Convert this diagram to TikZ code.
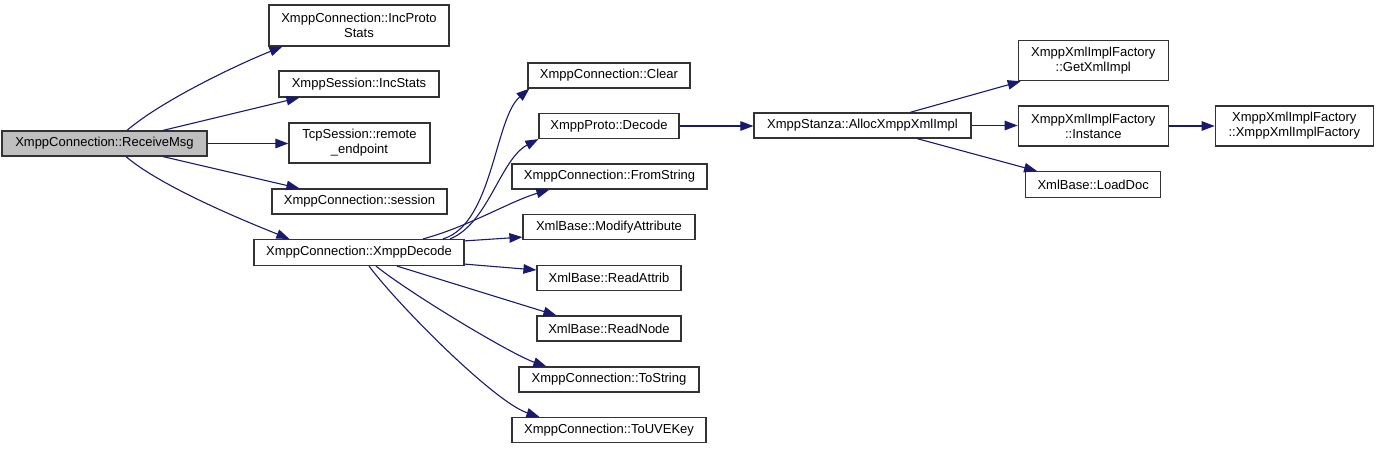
\documentclass[tikz,border=0pt]{standalone}
\usepackage{fontspec}
\setmainfont{Liberation Sans}
\usetikzlibrary{arrows.meta}
\definecolor{edgeblue}{HTML}{191970}
\definecolor{nodegray}{HTML}{BFBFBF}
\begin{document}
\begin{tikzpicture}[x=1pt,y=-1pt,
 box/.style={draw=black!80, line width=1.2pt, inner sep=0pt, align=center, font=\fontsize{13}{15}\selectfont, text=black},
 edge/.style={draw=edgeblue, line width=1.1pt, -{Triangle[length=13pt,width=9.5pt]}}]
\useasboundingbox (0,0) rectangle (1379,449);
% nodes
\node[box, fill=nodegray, minimum width=205pt, minimum height=25pt] (recv) at (104.5,143.5) {XmppConnection::ReceiveMsg};
\node[box, minimum width=180pt, minimum height=41pt] (incproto) at (359,25.5) {XmppConnection::IncProto\\Stats};
\node[box, minimum width=160pt, minimum height=26pt] (incstats) at (359,84) {XmppSession::IncStats};
\node[box, minimum width=141pt, minimum height=40pt] (remote) at (359.5,143) {TcpSession::remote\\\_endpoint};
\node[box, minimum width=175pt, minimum height=25pt] (session) at (359.5,201.5) {XmppConnection::session};
\node[box, minimum width=210pt, minimum height=26pt] (xdecode) at (359,252.5) {XmppConnection::XmppDecode};
\node[box, minimum width=162pt, minimum height=25pt] (clear) at (609,75.5) {XmppConnection::Clear};
\node[box, minimum width=140pt, minimum height=25pt] (pdecode) at (609,126) {XmppProto::Decode};
\node[box, minimum width=195pt, minimum height=25pt] (fromstr) at (609.5,176.5) {XmppConnection::FromString};
\node[box, minimum width=172pt, minimum height=25pt] (modattr) at (609,227) {XmlBase::ModifyAttribute};
\node[box, minimum width=144pt, minimum height=25pt] (readattrib) at (609,278) {XmlBase::ReadAttrib};
\node[box, minimum width=144pt, minimum height=25pt] (readnode) at (609,328.5) {XmlBase::ReadNode};
\node[box, minimum width=180pt, minimum height=25pt] (tostring) at (609,379.5) {XmppConnection::ToString};
\node[box, minimum width=194pt, minimum height=25pt] (touve) at (609,430) {XmppConnection::ToUVEKey};
\node[box, minimum width=217pt, minimum height=25pt] (alloc) at (862.5,125.5) {XmppStanza::AllocXmppXmlImpl};
\node[box, minimum width=150pt, minimum height=40pt] (getxml) at (1093.3,60.7) {XmppXmlImplFactory\\::GetXmlImpl};
\node[box, minimum width=150pt, minimum height=40pt] (instance) at (1093.3,126) {XmppXmlImplFactory\\::Instance};
\node[box, minimum width=158pt, minimum height=40pt] (ctor) at (1294.3,126) {XmppXmlImplFactory\\::XmppXmlImplFactory};
\node[box, minimum width=135pt, minimum height=25.6pt] (loaddoc) at (1093.2,184.5) {XmlBase::LoadDoc};
% edges from ReceiveMsg
\draw[edge] ([xshift=22.5pt]recv.north) .. controls +(35,-30) and +(-45,18) .. ([xshift=14pt]incproto.south west);
\draw[edge] ([xshift=58.5pt]recv.north) -- ([xshift=21pt]incstats.south west);
\draw[edge] (recv.east) -- (recv.east -| remote.west);
\draw[edge] ([xshift=58.5pt]recv.south) -- ([xshift=28pt]session.north west);
\draw[edge] ([xshift=21.5pt]recv.south) .. controls +(35,30) and +(-45,-18) .. ([xshift=36pt]xdecode.north west);
% edges from XmppDecode
\draw[edge] ([xshift=84pt]xdecode.north) .. controls +(50,-15) and +(-35,30) .. ([xshift=2pt]clear.south west);
\draw[edge] ([xshift=91pt]xdecode.north) .. controls +(38,-15) and +(-38,20) .. (pdecode.south west);
\draw[edge] ([xshift=64pt]xdecode.north) .. controls +(45,-12) and +(-40,12) .. ([xshift=38pt]fromstr.south west);
\draw[edge] ([yshift=-2pt]xdecode.north east) -- ([yshift=3pt]modattr.south west);
\draw[edge] ([yshift=2pt]xdecode.south east) -- ([yshift=8pt]readattrib.west);
\draw[edge] ([xshift=38pt]xdecode.south) -- ([xshift=20pt]readnode.north west);
\draw[edge] ([xshift=17pt]xdecode.south) .. controls +(35,28) and +(-35,-12) .. ([xshift=28pt]tostring.north west);
\draw[edge] ([xshift=10pt]xdecode.south) .. controls +(30,40) and +(-45,-15) .. ([xshift=28pt]touve.north west);
% right part
\draw[edge] (pdecode.east) -- (pdecode.east -| alloc.west);
\draw[edge] ([xshift=47.5pt]alloc.north) -- ([xshift=3pt]getxml.south west);
\draw[edge] (alloc.east) -- (alloc.east -| instance.west);
\draw[edge] ([xshift=54.5pt]alloc.south) -- ([xshift=12pt]loaddoc.north west);
\draw[edge] (instance.east) -- (instance.east -| ctor.west);
\end{tikzpicture}
\end{document}
